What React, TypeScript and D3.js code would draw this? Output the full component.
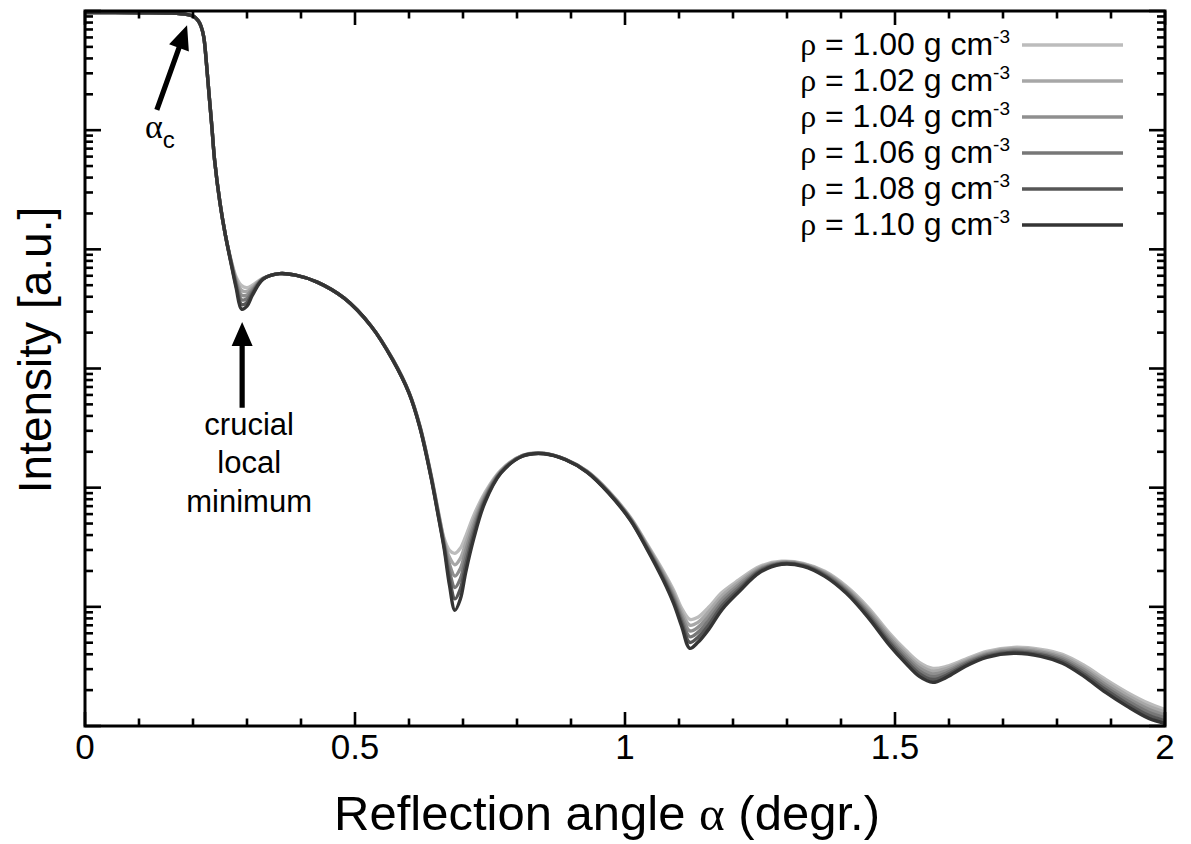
import React from "react";
import * as d3 from "d3";

// Reflection angle α in degrees (shared sampling for every density curve)
const angles = [
  0, 0.1, 0.16, 0.19, 0.2, 0.205, 0.21, 0.215, 0.22, 0.225, 0.23, 0.235, 0.24, 0.25, 0.26,
  0.27, 0.28, 0.29, 0.3, 0.31, 0.33, 0.36, 0.39, 0.43, 0.48, 0.53, 0.57, 0.6, 0.62, 0.64,
  0.655, 0.665, 0.675, 0.685, 0.695, 0.705, 0.72, 0.74, 0.77, 0.81, 0.85, 0.89, 0.93, 0.97, 1.01,
  1.04, 1.07, 1.09, 1.105, 1.12, 1.135, 1.155, 1.18, 1.21, 1.25, 1.29, 1.33, 1.37, 1.41, 1.45,
  1.49, 1.52, 1.545, 1.57, 1.595, 1.63, 1.67, 1.72, 1.77, 1.81, 1.85, 1.89, 1.93, 1.97, 2.0,
];

// log10 of the intensity [a.u.]; total reflection plateau and edge are common to all densities
const plateau = [
  -0.013, -0.015, -0.018, -0.03, -0.042, -0.059, -0.084, -0.13, -0.22, -0.445, -0.714, -0.974,
  -1.251, -1.612, -1.881,
];

const logI100 = [
  ...plateau,
  -2.082, -2.233, -2.305, -2.322, -2.301, -2.242, -2.204, -2.217, -2.275, -2.41, -2.645, -2.922,
  -3.199, -3.477, -3.871, -4.215, -4.425, -4.526, -4.551, -4.509, -4.408, -4.232, -4.047, -3.854,
  -3.728, -3.711, -3.762, -3.862, -4.03, -4.249, -4.467, -4.694, -4.861, -5.013, -5.105, -5.088,
  -5.004, -4.878, -4.777, -4.66, -4.618, -4.635, -4.702, -4.828, -5.004, -5.222, -5.365, -5.466,
  -5.516, -5.5, -5.441, -5.374, -5.34, -5.357, -5.399, -5.491, -5.609, -5.718, -5.81, -5.861,
];

const logI102 = [
  ...plateau,
  -2.087, -2.252, -2.344, -2.353, -2.318, -2.244, -2.204, -2.217, -2.275, -2.41, -2.645, -2.924,
  -3.201, -3.48, -3.876, -4.223, -4.442, -4.585, -4.647, -4.595, -4.468, -4.271, -4.064, -3.859,
  -3.73, -3.712, -3.763, -3.864, -4.033, -4.254, -4.475, -4.709, -4.883, -5.043, -5.154, -5.13,
  -5.041, -4.907, -4.797, -4.67, -4.623, -4.64, -4.71, -4.84, -5.021, -5.242, -5.387, -5.49,
  -5.54, -5.518, -5.453, -5.384, -5.35, -5.369, -5.414, -5.51, -5.631, -5.741, -5.835, -5.884,
];

const logI104 = [
  ...plateau,
  -2.092, -2.27, -2.384, -2.384, -2.335, -2.245, -2.204, -2.217, -2.275, -2.41, -2.645, -2.925,
  -3.202, -3.483, -3.881, -4.232, -4.459, -4.643, -4.742, -4.68, -4.529, -4.309, -4.081, -3.864,
  -3.731, -3.713, -3.764, -3.866, -4.037, -4.259, -4.484, -4.724, -4.905, -5.073, -5.202, -5.172,
  -5.078, -4.935, -4.817, -4.68, -4.628, -4.645, -4.719, -4.852, -5.038, -5.262, -5.409, -5.513,
  -5.563, -5.537, -5.465, -5.394, -5.36, -5.381, -5.429, -5.528, -5.653, -5.765, -5.86, -5.908,
];

const logI106 = [
  ...plateau,
  -2.097, -2.289, -2.423, -2.415, -2.351, -2.247, -2.204, -2.217, -2.275, -2.41, -2.645, -2.927,
  -3.204, -3.487, -3.886, -4.24, -4.475, -4.702, -4.838, -4.766, -4.589, -4.348, -4.097, -3.869,
  -3.733, -3.713, -3.764, -3.867, -4.04, -4.264, -4.492, -4.739, -4.927, -5.104, -5.251, -5.214,
  -5.115, -4.964, -4.838, -4.69, -4.633, -4.65, -4.727, -4.863, -5.054, -5.283, -5.43, -5.537,
  -5.587, -5.555, -5.476, -5.404, -5.37, -5.392, -5.444, -5.547, -5.674, -5.788, -5.886, -5.931,
];

const logI108 = [
  ...plateau,
  -2.102, -2.307, -2.463, -2.446, -2.368, -2.248, -2.204, -2.217, -2.275, -2.41, -2.645, -2.928,
  -3.205, -3.49, -3.891, -4.249, -4.492, -4.76, -4.933, -4.851, -4.65, -4.386, -4.114, -3.874,
  -3.734, -3.714, -3.765, -3.869, -4.044, -4.269, -4.501, -4.754, -4.949, -5.134, -5.299, -5.256,
  -5.152, -4.992, -4.858, -4.7, -4.638, -4.655, -4.736, -4.875, -5.071, -5.303, -5.452, -5.56,
  -5.61, -5.574, -5.488, -5.414, -5.38, -5.404, -5.459, -5.565, -5.696, -5.812, -5.911, -5.955,
];

const logI110 = [
  ...plateau,
  -2.107, -2.326, -2.502, -2.477, -2.385, -2.25, -2.204, -2.217, -2.275, -2.41, -2.645, -2.93,
  -3.207, -3.493, -3.896, -4.257, -4.509, -4.819, -5.029, -4.937, -4.71, -4.425, -4.131, -3.879,
  -3.736, -3.715, -3.766, -3.871, -4.047, -4.274, -4.509, -4.769, -4.971, -5.164, -5.348, -5.298,
  -5.189, -5.021, -4.878, -4.71, -4.643, -4.66, -4.744, -4.887, -5.088, -5.323, -5.474, -5.584,
  -5.634, -5.592, -5.5, -5.424, -5.39, -5.416, -5.474, -5.584, -5.718, -5.835, -5.936, -5.978,
];

const densities = ["1.00", "1.02", "1.04", "1.06", "1.08", "1.10"];
const densitySeries = [logI100, logI102, logI104, logI106, logI108, logI110];
const greys = ["#bcbcbc", "#a7a7a7", "#8f8f8f", "#777777", "#565656", "#343434"];

const xTickLabels = [0, 0.5, 1, 1.5, 2];

// Annotation anchors in data units (α, log10 intensity)
const criticalArrow = { from: [0.133, -0.83], to: [0.189, -0.12] };
const criticalLabel = [0.111, -1.066];
const minimumArrow = { from: [0.291, -3.33], to: [0.291, -2.61] };
const minimumLabel = { at: [0.304, -3.558], lines: ["crucial", "local", "minimum"] };

const FONT = "'Liberation Sans', Arial, Helvetica, sans-serif";
const GREEK = "'Liberation Serif', 'Times New Roman', serif";

function arrowPath(x0: number, y0: number, x1: number, y1: number) {
  const dx = x1 - x0;
  const dy = y1 - y0;
  const len = Math.hypot(dx, dy);
  const ux = dx / len;
  const uy = dy / len;
  const nx = -uy;
  const ny = ux;
  const headLen = 24;
  const headHalf = 10.5;
  const shaftHalf = 2.6;
  const bx = x1 - ux * headLen;
  const by = y1 - uy * headLen;
  const pts = [
    [x0 + nx * shaftHalf, y0 + ny * shaftHalf],
    [bx + nx * shaftHalf, by + ny * shaftHalf],
    [bx + nx * headHalf, by + ny * headHalf],
    [x1, y1],
    [bx - nx * headHalf, by - ny * headHalf],
    [bx - nx * shaftHalf, by - ny * shaftHalf],
    [x0 - nx * shaftHalf, y0 - ny * shaftHalf],
  ];
  return "M" + pts.map((p) => p.join(",")).join("L") + "Z";
}

export default function App() {
  const width = 1191;
  const height = 844;
  const plotLeft = 85;
  const plotRight = 1165;
  const plotTop = 11;
  const plotBottom = 726;

  const x = d3.scaleLinear().domain([0, 2]).range([plotLeft, plotRight]);
  const y = d3.scaleLinear().domain([-6, 0]).range([plotBottom, plotTop]);

  const line = d3
    .line<[number, number]>()
    .x((d) => x(d[0]))
    .y((d) => y(d[1]))
    .curve(d3.curveCatmullRom.alpha(0.5));

  const xTicks = d3.range(0, 21).map((i) => i / 10);
  const yMajor = d3.range(-6, 1);
  const yMinor: number[] = [];
  for (let k = -6; k < 0; k++) {
    for (let m = 2; m <= 9; m++) yMinor.push(k + Math.log10(m));
  }

  const tickW = 2.6;

  return (
    <svg
      width={width}
      height={height}
      viewBox={`0 0 ${width} ${height}`}
      style={{ position: "absolute", left: 0, top: 0, background: "#fff" }}
      fontFamily={FONT}
    >
      <defs>
        <clipPath id="plot-area">
          <rect x={plotLeft} y={plotTop} width={plotRight - plotLeft} height={plotBottom - plotTop} />
        </clipPath>
      </defs>
      <rect width={width} height={height} fill="#fff" />

      {/* reflectivity curves, lightest density first */}
      <g clipPath="url(#plot-area)">
        {densitySeries.map((vals, i) => (
          <path
            key={densities[i]}
            d={line(angles.map((a, j) => [a, vals[j]] as [number, number])) || ""}
            fill="none"
            stroke={greys[i]}
            strokeWidth={3.4}
            strokeLinejoin="round"
          />
        ))}
      </g>

      {/* ticks on all four sides */}
      <g stroke="#000" strokeWidth={tickW}>
        {xTicks.map((t) => {
          const major = Math.abs(t * 2 - Math.round(t * 2)) < 1e-6;
          const len = major ? 14 : 7.5;
          return (
            <g key={"xt" + t}>
              <line x1={x(t)} x2={x(t)} y1={plotBottom} y2={plotBottom - len} />
              <line x1={x(t)} x2={x(t)} y1={plotTop} y2={plotTop + len} />
            </g>
          );
        })}
        {yMajor.map((t) => (
          <g key={"ym" + t}>
            <line x1={plotLeft} x2={plotLeft + 16} y1={y(t)} y2={y(t)} />
            <line x1={plotRight} x2={plotRight - 16} y1={y(t)} y2={y(t)} />
          </g>
        ))}
        {yMinor.map((t) => (
          <g key={"yn" + t}>
            <line x1={plotLeft} x2={plotLeft + 8} y1={y(t)} y2={y(t)} />
            <line x1={plotRight} x2={plotRight - 8} y1={y(t)} y2={y(t)} />
          </g>
        ))}
      </g>

      {/* frame */}
      <rect
        x={plotLeft}
        y={plotTop}
        width={plotRight - plotLeft}
        height={plotBottom - plotTop}
        fill="none"
        stroke="#000"
        strokeWidth={3}
      />

      {/* x tick labels */}
      {xTickLabels.map((t) => (
        <text key={"xl" + t} x={x(t)} y={759} textAnchor="middle" fontSize={35} fill="#000">
          {String(t)}
        </text>
      ))}

      {/* axis titles */}
      <text x={607} y={830} textAnchor="middle" fontSize={49} fill="#000">
        Reflection angle <tspan fontFamily={GREEK}>α</tspan> (degr.)
      </text>
      <text
        transform={`translate(51, 350) rotate(-90)`}
        textAnchor="middle"
        fontSize={46}
        fill="#000"
      >
        Intensity [a.u.]
      </text>

      {/* legend */}
      {densities.map((d, i) => {
        const ly = 45 + 36 * i;
        return (
          <g key={"lg" + d}>
            <text x={1010} y={ly + 10} textAnchor="end" fontSize={32} fill="#000">
              <tspan fontFamily={GREEK}>ρ</tspan> = {d} g cm
              <tspan fontSize={19} dy={-12}>-3</tspan>
            </text>
            <line x1={1022} x2={1123} y1={ly} y2={ly} stroke={greys[i]} strokeWidth={3.5} />
          </g>
        );
      })}

      {/* critical angle annotation */}
      <path
        d={arrowPath(
          x(criticalArrow.from[0]),
          y(criticalArrow.from[1]),
          x(criticalArrow.to[0]),
          y(criticalArrow.to[1])
        )}
        fill="#000"
      />
      <text x={x(criticalLabel[0])} y={y(criticalLabel[1])} fontSize={34} fill="#000">
        <tspan fontFamily={GREEK}>α</tspan>
        <tspan fontSize={24} dy={10}>c</tspan>
      </text>

      {/* local minimum annotation */}
      <path
        d={arrowPath(
          x(minimumArrow.from[0]),
          y(minimumArrow.from[1]),
          x(minimumArrow.to[0]),
          y(minimumArrow.to[1])
        )}
        fill="#000"
      />
      <text
        x={x(minimumLabel.at[0])}
        y={y(minimumLabel.at[1])}
        textAnchor="middle"
        fontSize={31}
        fill="#000"
      >
        {minimumLabel.lines.map((s, i) => (
          <tspan key={s} x={x(minimumLabel.at[0])} dy={i === 0 ? 0 : 38.5}>
            {s}
          </tspan>
        ))}
      </text>
    </svg>
  );
}
